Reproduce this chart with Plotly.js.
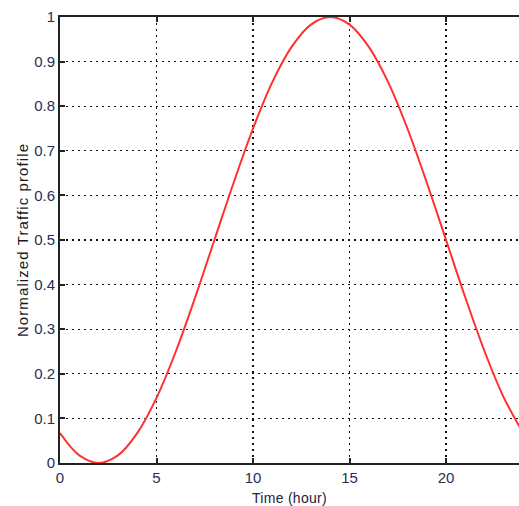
<!DOCTYPE html>
<html>
<head>
<meta charset="utf-8">
<script src="https://cdn.plot.ly/plotly-3.0.1.min.js"></script>
<style>
html,body{margin:0;padding:0;background:#fff;}
#chart{width:519px;height:506px;}
.g-ytitle text{letter-spacing:1.1px;}
.g-xtitle text{letter-spacing:0.3px;}
</style>
</head>
<body>
<div id="chart"></div>
<script>
const hours = [0,1,2,3,4,5,6,7,8,9,10,11,12,13,14,15,16,17,18,19,20,21,22,23,24];
const traffic = [0.067,0.017,0.000,0.017,0.067,0.146,0.250,0.371,0.500,0.629,0.750,0.854,0.933,0.983,1.000,0.983,0.933,0.854,0.750,0.629,0.500,0.371,0.250,0.146,0.067];
const xTicks = [0,5,10,15,20];
const yTicks = [0,0.1,0.2,0.3,0.4,0.5,0.6,0.7,0.8,0.9,1];
const yTickLabels = ['0','0.1','0.2','0.3','0.4','0.5','0.6','0.7','0.8','0.9','1'];

const tickFont = {family:'Liberation Sans, Arial, sans-serif', size:15, color:'#26304f'};
const xTitleFont = {family:'Liberation Sans, Arial, sans-serif', size:14, color:'#2a2040'};
const yTitleFont = {family:'Liberation Sans, Arial, sans-serif', size:15, color:'#1a1a1a'};

Plotly.newPlot('chart', [{
  x: hours, y: traffic, type:'scatter', mode:'lines',
  line:{color:'#ff3030', width:2, shape:'spline', smoothing:1},
  cliponaxis:true, hoverinfo:'skip'
}], {
  width:519, height:506,
  margin:{l:60, r:0, t:17, b:43},
  paper_bgcolor:'#fff', plot_bgcolor:'#fff',
  showlegend:false,
  xaxis:{
    range:[0,23.78], tickvals:xTicks, ticktext:xTicks.map(String),
    ticks:'inside', ticklen:5, tickwidth:2, tickcolor:'#222',
    showline:true, linecolor:'#222', linewidth:2, mirror:'ticks',
    showgrid:true, gridcolor:'#111', gridwidth:1.3, griddash:'2px,4px',
    zeroline:false, tickfont:tickFont,
    title:{text:'Time (hour)', font:xTitleFont, standoff:9}
  },
  yaxis:{
    range:[0,1], tickvals:yTicks, ticktext:yTickLabels,
    ticks:'inside', ticklen:5, tickwidth:2, tickcolor:'#222',
    showline:true, linecolor:'#222', linewidth:2, mirror:false,
    showgrid:true, gridcolor:'#111', gridwidth:1.3, griddash:'2px,4px',
    zeroline:false, tickfont:tickFont,
    title:{text:'Normalized Traffic profile', font:yTitleFont, standoff:2}
  }
}, {staticPlot:true, displayModeBar:false});
</script>
</body>
</html>
